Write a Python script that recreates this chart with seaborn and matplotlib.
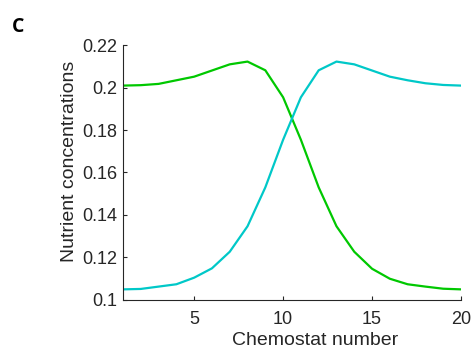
import matplotlib
matplotlib.use("Agg")
import matplotlib.pyplot as plt
import seaborn as sns
import pandas as pd

chemostat = list(range(1, 21))
nutrient_a = [0.2009, 0.2011, 0.2017, 0.2034, 0.2051, 0.2080, 0.2109, 0.2122, 0.2081, 0.1954,
              0.1754, 0.1530, 0.1347, 0.1227, 0.1147, 0.1100, 0.1074, 0.1063, 0.1053, 0.1050]
nutrient_b = [0.1050, 0.1052, 0.1063, 0.1074, 0.1105, 0.1149, 0.1227, 0.1347, 0.1530, 0.1754,
              0.1954, 0.2081, 0.2122, 0.2109, 0.2080, 0.2051, 0.2034, 0.2020, 0.2012, 0.2009]
x_ticks = [5, 10, 15, 20]
y_ticks = [0.1, 0.12, 0.14, 0.16, 0.18, 0.2, 0.22]
y_tick_labels = ["0.1", "0.12", "0.14", "0.16", "0.18", "0.2", "0.22"]

sns.set_style("white")
plt.rcParams["font.family"] = ["Liberation Sans", "DejaVu Sans"]

df = pd.DataFrame({
    "chemostat": chemostat * 2,
    "conc": nutrient_a + nutrient_b,
    "nutrient": ["A"] * len(chemostat) + ["B"] * len(chemostat),
})

fig = plt.figure(figsize=(4.72, 3.5), dpi=100)
ax = fig.add_axes([0.2606, 0.1429, 0.7161, 0.7285])
sns.lineplot(data=df, x="chemostat", y="conc", hue="nutrient",
             palette={"A": "#00c800", "B": "#00c8c8"}, linewidth=1.6,
             legend=False, ax=ax)

ax.set_xlim(1, 20)
ax.set_ylim(0.1, 0.22)
ax.set_xticks(x_ticks)
ax.set_yticks(y_ticks)
ax.set_yticklabels(y_tick_labels)
ax.tick_params(direction="in", length=3, width=0.8, colors="#262626",
               labelsize=13, left=True, bottom=True)
ax.tick_params(axis="x", pad=8)
ax.tick_params(axis="y", pad=4)
for s in ["top", "right"]:
    ax.spines[s].set_visible(False)
for s in ["left", "bottom"]:
    ax.spines[s].set_color("#262626")
    ax.spines[s].set_linewidth(0.8)
ax.set_xlabel("Chemostat number", fontsize=14, color="#262626", va="center")
ax.set_ylabel("Nutrient concentrations", fontsize=14, color="#262626", va="center")
ax.xaxis.set_label_coords(0.567, -0.157)
ax.yaxis.set_label_coords(-0.157, 0.543)

fig.text(0.025, 0.91, "C", fontsize=14, fontweight="bold",
         family=["Open Sans", "DejaVu Sans"], color="black")

fig.savefig("out.png", dpi=100)
